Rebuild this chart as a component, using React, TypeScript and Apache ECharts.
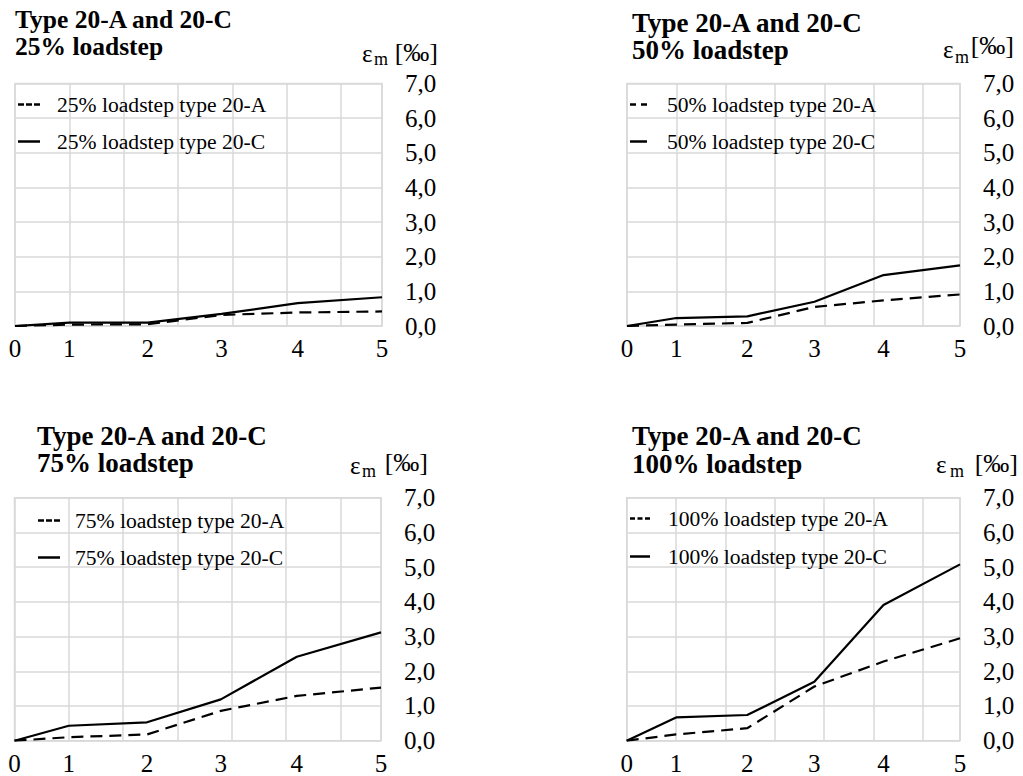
import React, { useEffect, useRef } from "react";
import * as echarts from "echarts";

// ---- data ----
const xLabels = ["0", "1", "2", "3", "4", "5"];
const xPositions = [0, 1, 2.44, 3.8, 5.2, 6.75];
const yTicks = [0, 1, 2, 3, 4, 5, 6, 7];

const loadsteps = ["25%", "50%", "75%", "100%"];
const strain25A = [0, 0.04, 0.05, 0.32, 0.39, 0.42];
const strain25C = [0, 0.1, 0.1, 0.35, 0.66, 0.83];
const strain50A = [0, 0.04, 0.09, 0.55, 0.74, 0.91];
const strain50C = [0, 0.23, 0.28, 0.7, 1.47, 1.75];
const strain75A = [0, 0.1, 0.18, 0.86, 1.29, 1.53];
const strain75C = [0, 0.43, 0.53, 1.19, 2.42, 3.12];
const strain100A = [0, 0.18, 0.36, 1.56, 2.28, 2.95];
const strain100C = [0, 0.67, 0.74, 1.7, 3.91, 5.08];
const seriesA = [strain25A, strain50A, strain75A, strain100A];
const seriesC = [strain25C, strain50C, strain75C, strain100C];

// ---- layout ----
const FONT = '"Liberation Serif", "Times New Roman", serif';
const GRID_COLOR = "#d9d9d9";
const DASH3 = "path://M0,0H6V2.5H0Z M8,0H14V2.5H8Z M16,0H22V2.5H16Z";
const panels = [
  {
    grid: { left: 15, top: 83.5, width: 367, height: 242.5 },
    title: { x: 15, y: 6, lh: 27, fs: 25.5 },
    legend: { left: 18, top: 93.5, gap: 15, w: 22, pad: 12, icon: DASH3 },
    unit: { ex: 362, ey: 53, mx: 374, my: 59, bx: 438, by: 52 },
  },
  {
    grid: { left: 627, top: 83.5, width: 333, height: 242.5 },
    title: { x: 632, y: 9.2, lh: 27.5, fs: 27 },
    legend: { left: 630, top: 93.5, gap: 15, w: 17, pad: 15, icon: "path://M0,0H6V2.5H0Z M11,0H17V2.5H11Z" },
    unit: { ex: 943, ey: 49, mx: 955, my: 57, bx: 1014, by: 45 },
  },
  {
    grid: { left: 14.5, top: 497.7, width: 366.5, height: 243 },
    title: { x: 37, y: 422, lh: 27.5, fs: 27 },
    legend: { left: 38, top: 509.5, gap: 15, w: 22, pad: 10, icon: DASH3 },
    unit: { ex: 350, ey: 465, mx: 362, my: 471, bx: 428, by: 462 },
  },
  {
    grid: { left: 626.7, top: 497.7, width: 333.3, height: 243 },
    title: { x: 632, y: 422, lh: 28, fs: 27 },
    legend: { left: 630, top: 507.5, gap: 16, w: 20, pad: 13, icon: "path://M0,0H5V2.5H0Z M7.5,0H12.5V2.5H7.5Z M15,0H20V2.5H15Z" },
    unit: { ex: 936, ey: 464, mx: 950, my: 471, bx: 1018, by: 463 },
  },
];

const nameA = (i: number) => `${loadsteps[i]} loadstep type 20-A`;
const nameC = (i: number) => `${loadsteps[i]} loadstep type 20-C`;

export default function App() {
  const ref = useRef<HTMLDivElement>(null);
  useEffect(() => {
    if (!ref.current) return;
    const chart = echarts.init(ref.current, undefined, { renderer: "svg" });

    const grid = panels.map((p) => ({
      ...p.grid,
      show: true,
      borderColor: GRID_COLOR,
      borderWidth: 1.5,
      containLabel: false,
      outerBoundsMode: "none",
    }));

    const xAxis = panels.map((_, i) => ({
      type: "value",
      gridIndex: i,
      min: xPositions[0],
      max: xPositions[xPositions.length - 1],
      interval: 1,
      axisLine: { show: false },
      axisTick: { show: false },
      splitLine: { show: true, lineStyle: { color: GRID_COLOR, width: 1.5 } },
      axisLabel: {
        customValues: xPositions,
        formatter: (v: number) => {
          let best = 0;
          xPositions.forEach((p, k) => {
            if (Math.abs(p - v) < Math.abs(xPositions[best] - v)) best = k;
          });
          return xLabels[best];
        },
        fontSize: 25,
        fontFamily: FONT,
        color: "#000",
        margin: 10,
      },
    }));

    const yAxis = panels.map((_, i) => ({
      type: "value",
      gridIndex: i,
      position: "right",
      min: yTicks[0],
      max: yTicks[yTicks.length - 1],
      interval: 1,
      axisLine: { show: false },
      axisTick: { show: false },
      splitLine: { show: true, lineStyle: { color: GRID_COLOR, width: 1.5 } },
      axisLabel: {
        formatter: (v: number) => v.toFixed(1).replace(".", ","),
        fontSize: 25,
        fontFamily: FONT,
        color: "#000",
        margin: 23,
      },
    }));

    const series: any[] = [];
    panels.forEach((_, i) => {
      series.push({
        type: "line",
        name: nameA(i),
        xAxisIndex: i,
        yAxisIndex: i,
        data: xPositions.map((x, k) => [x, seriesA[i][k]]),
        symbol: "none",
        color: "#000",
        lineStyle: { color: "#000", width: 2.2, type: [12, 7] },
      });
      series.push({
        type: "line",
        name: nameC(i),
        xAxisIndex: i,
        yAxisIndex: i,
        data: xPositions.map((x, k) => [x, seriesC[i][k]]),
        symbol: "none",
        color: "#000",
        lineStyle: { color: "#000", width: 2.2, type: "solid" },
      });
    });

    const legend = panels.map((p, i) => ({
      orient: "vertical",
      left: p.legend.left,
      top: p.legend.top,
      padding: 0,
      itemGap: p.legend.gap,
      itemWidth: p.legend.w,
      itemHeight: 2.5,
      selectedMode: false,
      data: [
        { name: nameA(i), icon: p.legend.icon },
        { name: nameC(i), icon: "rect" },
      ],
      itemStyle: { color: "#000" },
      textStyle: {
        fontSize: 21.6,
        lineHeight: 21,
        fontFamily: FONT,
        color: "#000",
        padding: [0, 0, 0, p.legend.pad],
      },
    }));

    const graphic: any[] = [];
    panels.forEach((p, i) => {
      graphic.push({
        type: "text",
        x: p.title.x,
        y: p.title.y,
        style: {
          text: `Type 20-A and 20-C\n${loadsteps[i]} loadstep`,
          fontSize: p.title.fs,
          fontWeight: "bold",
          fontFamily: FONT,
          lineHeight: p.title.lh,
          fill: "#000",
          align: "left",
          verticalAlign: "top",
        },
      });
      graphic.push({
        type: "text",
        x: p.unit.ex,
        y: p.unit.ey,
        style: { text: "ε", fontSize: 25, fontFamily: FONT, fill: "#000", align: "left", verticalAlign: "middle" },
      });
      graphic.push({
        type: "text",
        x: p.unit.mx,
        y: p.unit.my,
        style: { text: "m", fontSize: 18, fontFamily: FONT, fill: "#000", align: "left", verticalAlign: "middle" },
      });
      graphic.push({
        type: "text",
        x: p.unit.bx,
        y: p.unit.by,
        style: { text: "[‰]", fontSize: 26, fontFamily: FONT, fill: "#000", align: "right", verticalAlign: "middle" },
      });
    });

    chart.setOption({
      animation: false,
      backgroundColor: "#fff",
      grid,
      xAxis,
      yAxis,
      series,
      legend,
      graphic,
    } as any);
    return () => chart.dispose();
  }, []);

  return (
    <div
      ref={ref}
      style={{ position: "absolute", left: 0, top: 0, width: 1023, height: 776 }}
    />
  );
}
